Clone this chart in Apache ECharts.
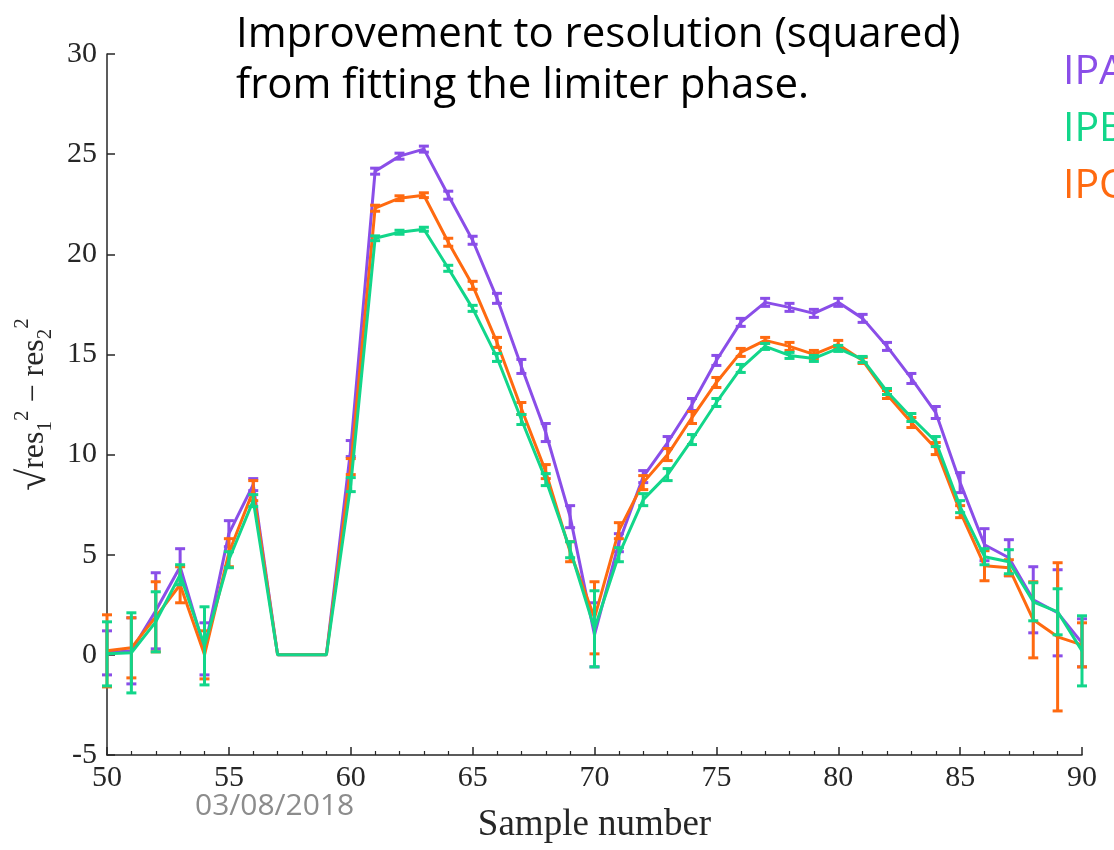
<!DOCTYPE html>
<html>
<head>
<meta charset="utf-8">
<script src="https://cdn.jsdelivr.net/npm/echarts@6/dist/echarts.min.js"></script>
<style>html,body{margin:0;padding:0;background:#fff}#c{width:1114px;height:850px}</style>
</head>
<body>
<div id="c"></div>
<script>
const samples = [50,51,52,53,54,55,56,57,58,59,60,61,62,63,64,65,66,67,68,69,70,71,72,73,74,75,76,77,78,79,80,81,82,83,84,85,86,87,88,89,90];

const ipaValues = [0.1,0.2,2.2,4.4,0.3,6.05,8.5,0,0,0,10.3,24.15,24.9,25.25,22.95,20.7,17.8,14.4,11.1,6.9,1.0,5.6,8.9,10.6,12.5,14.7,16.6,17.6,17.35,17.05,17.6,16.8,15.4,13.8,12.1,8.6,5.5,4.85,2.75,2.1,0.6];
const ipaErrors = [1.1,1.65,1.9,0.9,1.3,0.65,0.3,null,null,null,0.4,0.15,0.15,0.15,0.2,0.2,0.25,0.35,0.45,0.55,1.6,0.45,0.3,0.3,0.3,0.25,0.2,0.2,0.2,0.2,0.2,0.2,0.2,0.25,0.3,0.5,0.8,0.9,1.65,2.15,1.2];

const ipbValues = [0.05,0.1,1.65,4.0,0.45,4.75,7.7,0,0,0,8.5,20.8,21.1,21.25,19.3,17.3,14.85,11.75,8.75,5.25,1.3,5.0,7.75,9.0,10.75,12.6,14.3,15.4,14.95,14.8,15.3,14.75,13.15,11.85,10.65,7.4,4.9,4.65,2.65,2.15,0.2];
const ipbErrors = [1.6,2.0,1.5,0.5,1.95,0.4,0.3,null,null,null,0.35,0.12,0.1,0.1,0.15,0.15,0.2,0.25,0.3,0.4,1.9,0.35,0.3,0.3,0.25,0.2,0.2,0.15,0.15,0.15,0.15,0.15,0.15,0.2,0.25,0.3,0.4,0.6,0.95,1.15,1.75];

const ipcValues = [0.2,0.35,1.9,3.5,0.0,5.1,8.2,0,0,0,9.4,22.3,22.8,22.95,20.6,18.45,15.6,12.3,9.15,5.15,1.85,6.2,8.6,10.0,11.85,13.6,15.1,15.7,15.4,15.0,15.5,14.7,13.0,11.6,10.3,7.15,4.45,4.35,1.75,0.9,0.5];
const ipcErrors = [1.8,1.5,1.75,0.9,1.2,0.7,0.5,null,null,null,0.4,0.15,0.12,0.12,0.2,0.2,0.25,0.3,0.35,0.5,1.8,0.4,0.35,0.3,0.3,0.25,0.2,0.15,0.2,0.2,0.2,0.15,0.2,0.25,0.3,0.3,0.75,0.4,1.9,3.7,1.1];

const seriesNames = ['IPA','IPB','IPC'];
const colors = {IPA:'#8a4ee8', IPB:'#12d68a', IPC:'#ff6a10'};
const titleText = 'Improvement to resolution (squared)\nfrom fitting the limiter phase.';
const dateText = '03/08/2018';

const chart = echarts.init(document.getElementById('c'), null, {renderer:'canvas'});

function lineSeries(name, vals, z){
  return {name, type:'line', data: samples.map((x,i)=>[x, vals[i]]), symbol:'none',
    lineStyle:{color:colors[name], width:3}, itemStyle:{color:colors[name]}, z, animation:false};
}
function errSeries(name, vals, errs, z){
  const data = [];
  samples.forEach((x,i)=>{ if (errs[i] != null) data.push([x, vals[i]-errs[i], vals[i]+errs[i]]); });
  return {name: name + ' error', type:'custom', data, z, animation:false,
    encode:{x:0, y:[1,2]},
    renderItem: function(params, api){
      const x = api.value(0), lo = api.value(1), hi = api.value(2);
      const a = api.coord([x, hi]), b = api.coord([x, lo]);
      const w = 5;
      const st = {stroke: colors[name], lineWidth: 3};
      return {type:'group', children:[
        {type:'line', shape:{x1:a[0], y1:a[1], x2:b[0], y2:b[1]}, style:st},
        {type:'line', shape:{x1:a[0]-w, y1:a[1], x2:a[0]+w, y2:a[1]}, style:st},
        {type:'line', shape:{x1:b[0]-w, y1:b[1], x2:b[0]+w, y2:b[1]}, style:st}
      ]};
    }
  };
}

const axisColor = '#262626';
const serif = '"Liberation Serif", "DejaVu Serif", serif';

const option = {
  backgroundColor:'#ffffff',
  animation:false,
  title:[
    {text:titleText, left:236, top:10, padding:0,
     textStyle:{fontFamily:'"Open Sans", sans-serif', fontSize:42, fontWeight:'normal', color:'#000', lineHeight:51}},
    {text:dateText, left:195, top:791, padding:0,
     textStyle:{fontFamily:'"Open Sans", sans-serif', fontSize:30, fontWeight:'normal', color:'#8c8c8c'}}
  ],
  legend:{
    orient:'vertical', left:1058, top:50, padding:0,
    icon:'none', itemWidth:0, itemHeight:0, itemGap:13, selectedMode:false,
    textStyle:{fontFamily:'"Open Sans", sans-serif', fontSize:41, lineHeight:44, padding:0},
    data: seriesNames.map(n=>({name:n, textStyle:{color:colors[n]}}))
  },
  grid:{left:107, right:32, top:54, bottom:95, containLabel:false},
  xAxis:{
    type:'value', min:50, max:90, interval:5,
    axisLine:{onZero:false, lineStyle:{color:axisColor, width:1.5}},
    axisTick:{inside:true, length:8, lineStyle:{color:axisColor, width:1.5}},
    minorTick:{show:true, splitNumber:5, length:4, lineStyle:{color:axisColor, width:1.2}},
    splitLine:{show:false},
    axisLabel:{fontFamily:serif, fontSize:30, color:axisColor, margin:8},
    name:'Sample number', nameLocation:'middle', nameGap:52,
    nameTextStyle:{fontFamily:serif, fontSize:37, color:axisColor}
  },
  yAxis:{
    type:'value', min:-5, max:30, interval:5,
    axisLine:{show:true, onZero:false, lineStyle:{color:axisColor, width:1.5}},
    axisTick:{show:true, inside:true, length:8, lineStyle:{color:axisColor, width:1.5}},
    splitLine:{show:false},
    axisLabel:{fontFamily:serif, fontSize:30, color:axisColor, margin:10},
    name:'{r|√}{t|res}{s|1}{p|2}{t| − res}{s|2}{p|2}',
    nameLocation:'middle', nameGap:46, nameRotate:90,
    nameTextStyle:{fontFamily:serif, fontSize:32, color:axisColor,
      rich:{
        r:{fontFamily:serif, fontSize:40, color:axisColor, lineHeight:44, verticalAlign:'middle'},
        t:{fontFamily:serif, fontSize:32, color:axisColor, lineHeight:44, verticalAlign:'middle'},
        s:{fontFamily:serif, fontSize:21, color:axisColor, lineHeight:44, verticalAlign:'bottom'},
        p:{fontFamily:serif, fontSize:21, color:axisColor, lineHeight:44, verticalAlign:'top'}
      }}
  },
  series:[
    lineSeries('IPA', ipaValues, 2), errSeries('IPA', ipaValues, ipaErrors, 2),
    lineSeries('IPC', ipcValues, 3), errSeries('IPC', ipcValues, ipcErrors, 3),
    lineSeries('IPB', ipbValues, 4), errSeries('IPB', ipbValues, ipbErrors, 4)
  ]
};
chart.setOption(option);
</script>
</body>
</html>
